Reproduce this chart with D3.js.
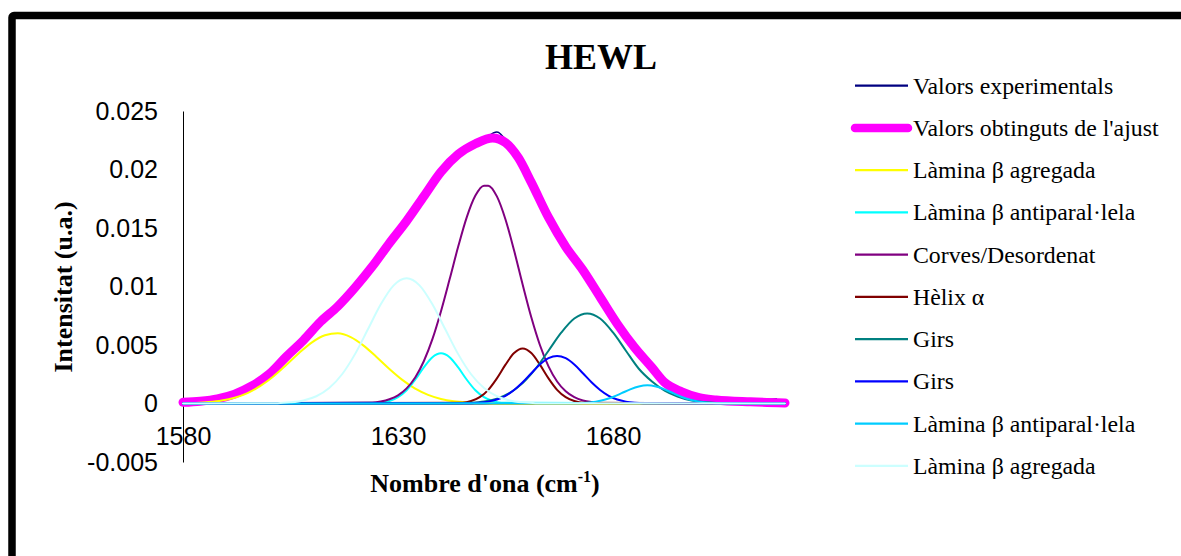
<!DOCTYPE html>
<html>
<head>
<meta charset="utf-8">
<script src="https://cdn.jsdelivr.net/npm/d3@7"></script>
<style>
  body { margin: 0; background: #fff; }
  svg { display: block; }
</style>
</head>
<body>
<svg id="canvas" width="1181" height="556"></svg>
<script>
// values (wavenumber in cm-1, intensity in u.a.)
var xTicks = [1580, 1630, 1680],
  yTicks = [-0.005, 0, 0.005, 0.01, 0.015, 0.02, 0.025];

var expX = [1580,1588,1596,1604,1612,1620,1628,1636,1644,1650,1653,1656,1661,1665,1669,1673,1677,1681,1685,1689,1693,1697,1702,1708,1714,1718],
  expY = [0.0001,0.0004,0.0015,0.0040,0.0070,0.0099,0.0137,0.0177,0.0213,0.0226,0.0232,0.0220,0.0189,0.0159,0.0134,0.0114,0.0091,0.0068,0.0048,0.0031,0.0017,0.0009,0.0004,0.0003,0.0003,0.0004];

var fitX = [1580,1584,1588,1592,1596,1600,1604,1608,1612,1616,1620,1624,1628,1632,1636,1640,1644,1648,1652,1655,1658,1661,1665,1669,1673,1677,1681,1685,1689,1692,1696,1700,1704,1712,1720],
  fitY = [0.0001,0.0002,0.0004,0.0008,0.0015,0.0025,0.0040,0.0054,0.0070,0.0083,0.0099,0.0117,0.0137,0.0156,0.0177,0.0198,0.0213,0.0222,0.0227,0.0223,0.0210,0.0189,0.0159,0.0134,0.0114,0.0091,0.0068,0.0048,0.0031,0.0018,0.0010,0.0005,0.0003,0.00014,0.00005];

var aggX = [1580,1583,1586,1589,1592,1595,1598,1601,1604,1607,1610,1613,1616,1619,1622,1625,1628,1631,1634,1637,1640,1643,1646,1649,1652,1720],
  aggY = [0.00002,0.00005,0.00012,0.00025,0.00049,0.00089,0.00150,0.00231,0.00329,0.00432,0.00523,0.00583,0.00600,0.00568,0.00495,0.00398,0.00295,0.00202,0.00127,0.00074,0.00039,0.00019,0.00009,0.00004,0.00001,0];

var antiX = [1580,1626,1628,1630,1632,1634,1636,1638,1640,1642,1644,1646,1648,1650,1652,1654,1720],
  antiY = [0,0.00007,0.00021,0.00054,0.00113,0.00203,0.00308,0.00396,0.0043,0.00396,0.00308,0.00203,0.00113,0.00054,0.00021,0.00007,0];

var coilX = [1580,1624,1626,1628,1630,1632,1634,1636,1638,1640,1642,1644,1646,1648,1650,1651,1653,1655,1657,1659,1661,1663,1665,1667,1669,1671,1673,1675,1677,1720],
  coilY = [0,0.00008,0.00017,0.00036,0.00070,0.00129,0.00222,0.00361,0.00550,0.00789,0.01061,0.01341,0.01593,0.01777,0.01862,0.01862,0.01770,0.01573,0.01307,0.01015,0.00737,0.00500,0.00317,0.00188,0.00104,0.00054,0.00026,0.00012,0.00005,0];

var helixX = [1580,1645,1647,1649,1651,1653,1655,1657,1659,1661,1663,1665,1667,1669,1671,1673,1720],
  helixY = [0,0.00007,0.00021,0.00054,0.00117,0.00215,0.00332,0.00431,0.0047,0.00431,0.00332,0.00215,0.00117,0.00054,0.00021,0.00007,0];

var turn1X = [1580,1644,1647,1650,1653,1656,1659,1662,1665,1668,1671,1674,1677,1680,1683,1686,1689,1692,1695,1698,1701,1704,1720],
  turn1Y = [0,0.00002,0.00006,0.00017,0.00042,0.00091,0.00174,0.00297,0.00451,0.00607,0.00726,0.0077,0.00726,0.00607,0.00451,0.00297,0.0019,0.0011,0.0006,0.00028,0.00012,0.00005,0];

var turn2X = [1580,1647,1649,1651,1653,1655,1657,1659,1661,1663,1665,1667,1669,1671,1673,1675,1677,1679,1681,1683,1685,1687,1720],
  turn2Y = [0,0.00003,0.00007,0.00016,0.00034,0.00066,0.00116,0.00182,0.00259,0.00333,0.00387,0.00407,0.00387,0.00333,0.00259,0.00182,0.00116,0.00066,0.00034,0.00016,0.00007,0.00003,0];

var anti2X = [1580,1672,1674,1676,1678,1680,1682,1684,1686,1688,1690,1692,1694,1696,1698,1700,1702,1704,1720],
  anti2Y = [0,0.00003,0.00007,0.00016,0.00032,0.00056,0.00088,0.00121,0.00146,0.00156,0.00146,0.00121,0.00088,0.00056,0.00032,0.00016,0.00007,0.00003,0];

var agg2X = [1580,1602,1605,1608,1611,1614,1617,1620,1623,1626,1629,1632,1635,1638,1641,1644,1647,1650,1653,1656,1659,1662,1720],
  agg2Y = [0,0.00003,0.00010,0.00026,0.00062,0.00132,0.00250,0.00422,0.00634,0.00848,0.01010,0.0107,0.01010,0.00848,0.00634,0.00422,0.00250,0.00132,0.00062,0.00026,0.00010,0.00003,0];

var labels = ['Valors experimentals', "Valors obtinguts de l'ajust", 'Làmina β agregada',
  'Làmina β antiparal·lela', 'Corves/Desordenat', 'Hèlix α', 'Girs', 'Girs',
  'Làmina β antiparal·lela', 'Làmina β agregada'];
var colors = ['#000080', '#ff00ff', '#ffff00', '#00ffff', '#800080', '#800000',
  '#008080', '#0000ff', '#00ccff', '#ccffff'];
var widths = [1.5, 9, 2, 2, 2, 2, 2, 2, 2, 2];

function zip(xs, ys) {
  return xs.map(function(x, i) { return [x, ys[i]]; });
}

var series = [zip(expX, expY), zip(fitX, fitY), zip(aggX, aggY), zip(antiX, antiY),
  zip(coilX, coilY), zip(helixX, helixY), zip(turn1X, turn1Y), zip(turn2X, turn2Y),
  zip(anti2X, anti2Y), zip(agg2X, agg2Y)];

var svg = d3.select('#canvas'),
  sans = '"Liberation Sans", Arial, sans-serif',
  serif = '"Liberation Serif", "Times New Roman", serif';

// chart border, only its top and left sides fall inside the picture
svg.append('rect')
  .attr('x', 12).attr('y', 15.5)
  .attr('width', 1400).attr('height', 800)
  .attr('rx', 2)
  .style('fill', 'none')
  .style('stroke', '#000')
  .style('stroke-width', 7.5)

var x = d3.scaleLinear().domain([1580, 1720]).range([183, 785]),
  y = d3.scaleLinear().domain([-0.005, 0.025]).range([462, 111]);

function fmt(d) {
  return d === 0 ? '0' : String(+d.toFixed(3));
}

var yAxis = svg.append('g')
  .attr('transform', 'translate(' + x(1580) + ',0)')
  .call(d3.axisLeft(y).tickValues(yTicks).tickFormat(fmt).tickSize(0).tickSizeOuter(0).tickPadding(25))
var xAxis = svg.append('g')
  .attr('transform', 'translate(0,' + y(0) + ')')
  .call(d3.axisBottom(x).tickValues(xTicks).tickFormat(d3.format('d')).tickSize(0).tickSizeOuter(0).tickPadding(24))

svg.selectAll('.domain').style('stroke', '#000').style('stroke-width', 1)
svg.selectAll('.tick text')
  .style('font-family', sans)
  .style('font-size', '25px')
  .style('fill', '#000')

var line = d3.line()
  .x(function(d) { return x(d[0]); })
  .y(function(d) { return y(d[1]); })
  .curve(d3.curveMonotoneX);

svg.append('g').selectAll('path')
  .data(series)
  .enter().append('path')
  .attr('d', line)
  .style('fill', 'none')
  .style('stroke', function(d, i) { return colors[i]; })
  .style('stroke-width', function(d, i) { return widths[i]; })
  .style('stroke-linecap', 'round')
  .style('stroke-linejoin', 'round')

// titles
svg.append('text')
  .attr('x', 601).attr('y', 69)
  .attr('text-anchor', 'middle')
  .style('font-family', serif)
  .style('font-weight', 'bold')
  .style('font-size', '36px')
  .text('HEWL')

svg.append('text')
  .attr('transform', 'translate(72,287)rotate(-90)')
  .attr('text-anchor', 'middle')
  .style('font-family', serif)
  .style('font-weight', 'bold')
  .style('font-size', '26px')
  .text('Intensitat (u.a.)')

var xt = svg.append('text')
  .attr('x', 485).attr('y', 492)
  .attr('text-anchor', 'middle')
  .style('font-family', serif)
  .style('font-weight', 'bold')
  .style('font-size', '26px')
xt.append('tspan').text("Nombre d'ona (cm")
xt.append('tspan').attr('dy', -10).style('font-size', '16px').text('-1')
xt.append('tspan').attr('dy', 10).text(')')

// legend
var legend = svg.append('g').selectAll('g')
  .data(labels)
  .enter().append('g')
  .attr('transform', function(d, i) { return 'translate(0,' + (85.7 + i * 42.25) + ')'; })

legend.append('line')
  .attr('x1', 855).attr('x2', 908)
  .style('stroke', function(d, i) { return colors[i]; })
  .style('stroke-width', function(d, i) { return i === 1 ? 8.5 : 2.2; })
  .style('stroke-linecap', function(d, i) { return i === 1 ? 'round' : 'butt'; })

legend.append('text')
  .attr('x', 913).attr('y', 8)
  .style('font-family', serif)
  .style('font-size', '23.8px')
  .text(function(d) { return d; })
</script>
</body>
</html>
